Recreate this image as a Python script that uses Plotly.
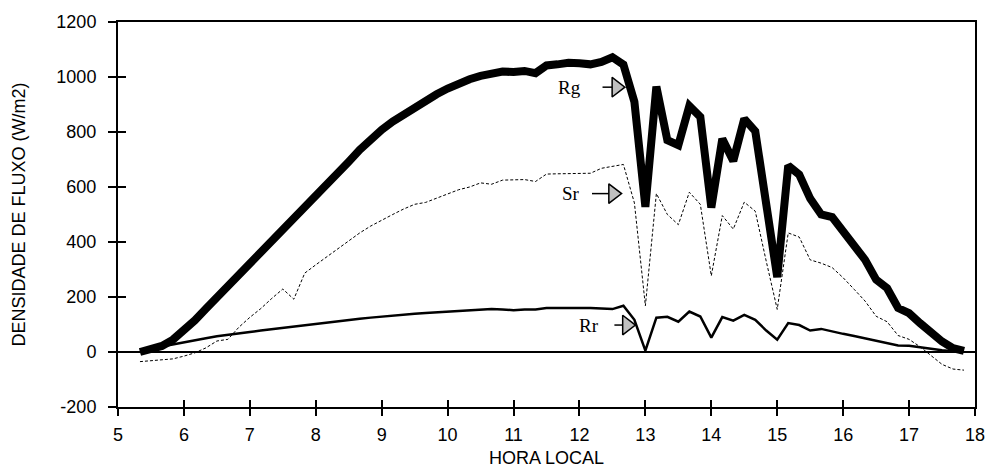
import plotly.graph_objects as go

# time of each reading, minutes since midnight (10-minute intervals)
minutes = [320, 330, 340, 350, 360, 370, 380, 390, 400, 410,
           420, 430, 440, 450, 460, 470, 480, 490, 500, 510,
           520, 530, 540, 550, 560, 570, 580, 590, 600, 610,
           620, 630, 640, 650, 660, 670, 680, 690, 700, 710,
           720, 730, 740, 750, 760, 770, 780, 790, 800, 810,
           820, 830, 840, 850, 860, 870, 880, 890, 900, 910,
           920, 930, 940, 950, 960, 970, 980, 990, 1000, 1010,
           1020, 1030, 1040, 1050, 1060, 1070]

rg = [0, 8, 22, 45, 78, 115, 157, 198, 240, 280,
      318, 355, 400, 446, 485, 522, 562, 605, 648, 692,
      735, 775, 808, 838, 864, 890, 915, 937, 958, 977,
      992, 1004, 1014, 1020, 1018, 1022, 1014, 1042, 1046, 1052,
      1050, 1046, 1055, 1072, 1045, 910, 528, 965, 770, 752,
      895, 855, 525, 775, 695, 848, 803, 545, 272, 678,
      645, 558, 500, 491, 435, 384, 335, 263, 232, 160,
      141, 105, 68, 38, 14, 4]

sr = [-35, -32, -29, -25, -15, -3, 15, 40, 46, 90,
      126, 158, 195, 229, 192, 287, 317, 346, 372, 404,
      433, 458, 480, 500, 520, 537, 544, 560, 575, 590,
      600, 615, 610, 625, 626, 627, 620, 647, 648, 649,
      649, 650, 668, 675, 682, 542, 168, 576, 500, 463,
      581, 537, 277, 496, 447, 545, 512, 330, 155, 433,
      418, 335, 323, 307, 270, 228, 185, 130, 110, 60,
      46, 19, -12, -45, -62, -66]

rr = [0, 8, 20, 28, 35, 42, 50, 57, 63, 68,
      73, 78, 83, 88, 93, 97, 101, 106, 112, 116,
      121, 125, 129, 133, 136, 139, 142, 144, 147, 150,
      152, 154, 156, 155, 152, 155, 155, 160, 160, 161,
      160, 160, 158, 156, 168, 117, 5, 125, 128, 110,
      147, 129, 52, 127, 114, 135, 117, 78, 45, 105,
      98, 78, 84, 74, 66, 58, 50, 40, 34, 24,
      23, 17, 10, 6, 3, 1]

hours = [m / 60 for m in minutes]

x_ticks = [5, 6, 7, 8, 9, 10, 11, 12, 13, 14, 15, 16, 17, 18]
y_ticks = [-200, 0, 200, 400, 600, 800, 1000, 1200]
y_tick_text = ["-200", "0", "200", "400", "600", "800", "1000", "1200"]

# series labels: name, label x, arrow start x, triangle x, y
labels = ["Rg", "Sr", "Rr"]
label_x = [11.85, 11.87, 12.15]
arrow_x0 = [12.35, 12.19, 12.53]
arrow_x1 = [12.56, 12.51, 12.72]
label_y = [963, 576, 98]

FONT = "Arial, 'Liberation Sans', sans-serif"
SERIF = "'Times New Roman', 'Liberation Serif', serif"

fig = go.Figure()
fig.add_trace(go.Scatter(x=hours, y=sr, mode="lines",
                         line=dict(color="black", width=1, dash="3px,2px"), showlegend=False))
fig.add_trace(go.Scatter(x=hours, y=rr, mode="lines",
                         line=dict(color="black", width=2.5), showlegend=False))
fig.add_trace(go.Scatter(x=hours, y=rg, mode="lines",
                         line=dict(color="black", width=8), showlegend=False))

for name, lx, a0, a1, ly in zip(labels, label_x, arrow_x0, arrow_x1, label_y):
    fig.add_trace(go.Scatter(x=[a0, a1], y=[ly, ly], mode="lines",
                             line=dict(color="black", width=1.5), showlegend=False))
    fig.add_trace(go.Scatter(x=[a1], y=[ly], mode="markers",
                             marker=dict(symbol="triangle-right", size=17, color="#c0c0c0",
                                         line=dict(color="black", width=1.5)),
                             showlegend=False))
    fig.add_annotation(x=lx, y=ly, text=name, showarrow=False,
                       font=dict(family=SERIF, size=19, color="black"),
                       xanchor="center", yanchor="middle")

# overlay axes to draw inside half of the crossing ticks
fig.add_trace(go.Scatter(x=[None], y=[None], xaxis="x2", yaxis="y2", showlegend=False))

fig.update_layout(
    width=987, height=468,
    margin=dict(l=118, r=12, t=22, b=61),
    paper_bgcolor="white", plot_bgcolor="white",
    font=dict(family=FONT, size=18, color="black"),
    xaxis=dict(range=[5, 18], tickvals=x_ticks, ticks="outside", ticklen=7, tickwidth=2,
               tickcolor="black", showline=True, linecolor="black", linewidth=2, mirror=True,
               showgrid=False, zeroline=False, ticklabelstandoff=3, automargin=False,
               tickfont=dict(family=FONT, size=18),
               title=dict(text="HORA LOCAL", font=dict(family=FONT, size=18), standoff=8)),
    yaxis=dict(range=[-200, 1200], tickvals=y_ticks, ticktext=y_tick_text,
               ticks="outside", ticklen=8, tickwidth=2,
               tickcolor="black", showline=True, linecolor="black", linewidth=2, mirror=True,
               showgrid=False, zeroline=True, zerolinecolor="black", zerolinewidth=2,
               ticklabelstandoff=8, automargin=False,
               tickfont=dict(family=FONT, size=18),
               title=dict(text="DENSIDADE DE FLUXO (W/m2)", font=dict(family=FONT, size=18),
                          standoff=26)),
    xaxis2=dict(range=[5, 18], tickvals=x_ticks, ticks="inside", ticklen=7, tickwidth=2,
                tickcolor="black", showticklabels=False, showgrid=False, zeroline=False,
                overlaying="x", anchor="y2", side="bottom", showline=False),
    yaxis2=dict(range=[-200, 1200], tickvals=y_ticks, ticks="inside", ticklen=8, tickwidth=2,
                tickcolor="black", showticklabels=False, showgrid=False, zeroline=False,
                overlaying="y", anchor="x2", side="left", showline=False),
)

fig.write_html("out.html")
